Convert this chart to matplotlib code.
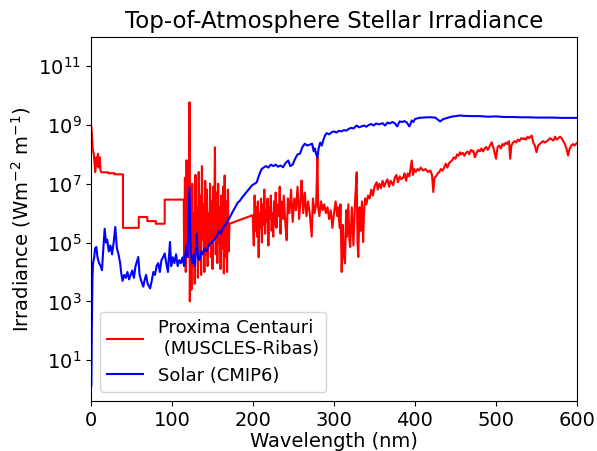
import numpy as np
import matplotlib
matplotlib.use("Agg")
import matplotlib.pyplot as plt

plt.rcParams['font.size'] = 14

# Proxima Centauri (MUSCLES-Ribas): wavelength (nm) and log10 irradiance
prox_wl = [0.3, 1.0, 2.1, 3.5, 5.3, 6.5, 7.5, 8.6, 9.5, 10.7, 11.8, 12.8, 21, 21, 29, 29, 39.5, 39.5,
           59, 59, 69.5, 69.5, 80, 80, 91, 91, 114.5,
           115, 116, 117, 118, 119, 120, 121, 121.6, 122, 123, 124, 125, 126, 127, 128, 129, 130,
           131, 132, 133, 134, 135, 136, 137, 138, 139, 140, 141, 142, 143, 144, 145, 146, 147,
           148, 149, 150, 151, 152, 153, 154, 155, 156, 157, 158, 159, 160, 161, 162, 163, 164,
           165, 166, 167, 168, 169, 170, 171,
           199.6, 201, 202, 203, 204, 205, 206, 207, 208, 209, 210, 211, 212, 213, 214, 215, 216,
           217, 218, 219, 220, 221, 222, 223, 224, 225, 226, 227, 228, 229, 230, 232, 233, 234,
           235, 237, 238, 240, 241.6, 243, 245, 247, 249, 251, 253, 255, 257, 259, 260, 262, 264,
           266, 268, 270, 272.5, 274, 276, 278, 279.5, 280.5, 282, 284, 286, 288, 290, 292, 294,
           296, 298, 300, 302, 304, 305, 307, 308, 309.5, 311, 312, 313.6, 315, 316, 317.7, 319,
           320, 322, 324, 326, 328, 329, 330, 331.5, 333, 334.5, 336, 337, 338.5, 340, 342, 344,
           346, 348, 350, 352.7, 354, 356, 358, 360, 362, 364, 366, 368, 370, 373, 375, 377, 379,
           381, 383, 385.6, 387, 389, 391, 393, 396, 397.5, 399, 401, 403, 405, 407, 410, 413,
           416, 419, 421, 422.6, 424, 426, 428, 430, 432, 434, 436, 438, 440, 442, 444, 446, 448,
           450, 452, 454, 455.6, 457, 459, 461, 463, 465, 467, 469, 471, 472, 474, 476, 478, 480,
           482, 484, 486, 488, 490, 492.6, 494.7, 497, 500, 502, 504, 506, 508, 510, 512, 514,
           516, 517.5, 519, 521, 523, 525, 527, 529, 531, 533.7, 535, 537, 539, 541, 544, 546,
           548, 550, 552, 554, 556, 558, 560, 562.6, 565, 567, 569, 571, 573, 575, 577, 579, 581,
           583, 585, 587, 589, 591, 593, 595, 597, 599.6]
prox_log = [8.98, 8.7, 8.19, 8.0, 7.39, 7.9, 7.6, 8.02, 7.55, 7.9, 7.45, 7.39, 7.39, 7.36, 7.36, 7.32, 7.32, 5.5,
            5.5, 5.87, 5.87, 5.73, 5.73, 5.64, 5.64, 6.46, 6.46,
            4.5, 7.2, 4.0, 7.8, 5.0, 6.8, 4.5, 9.77, 3.0, 6.5, 3.4, 7.0, 4.2, 6.0, 3.6, 7.3, 4.8,
            6.2, 3.8, 7.4, 4.4, 6.6, 3.9, 7.6, 5.1, 6.3, 4.0, 7.1, 4.6, 6.8, 4.2, 6.0, 4.9, 7.0,
            4.5, 6.4, 4.1, 6.9, 5.2, 8.24, 4.6, 6.7, 4.3, 7.0, 5.0, 6.2, 4.1, 6.6, 4.8, 6.9, 3.95,
            7.28, 4.5, 6.4, 4.0, 6.8, 4.7, 5.64,
            5.93, 4.9, 6.6, 5.4, 6.2, 5.2, 6.4, 4.5, 6.0, 5.5, 6.5, 5.0, 6.3, 5.6, 6.8, 5.3, 6.1,
            5.7, 6.5, 4.9, 6.2, 5.8, 6.6, 5.4, 6.0, 5.2, 6.4, 5.6, 6.7, 5.5, 6.3, 5.9, 6.9, 5.3,
            6.4, 5.8, 6.6, 5.6, 5.08, 6.5, 6.0, 6.8, 5.7, 6.5, 6.1, 6.9, 5.8, 6.6, 7.11, 6.0, 6.7,
            5.9, 6.4, 6.0, 5.2, 6.5, 6.0, 6.3, 7.9, 6.2, 5.9, 6.4, 6.1, 6.3, 6.0, 6.2, 5.8,
            6.1, 5.5, 6.0, 6.4, 5.9, 6.2, 5.5, 6.3, 4.0, 5.6, 4.6, 4.29, 6.1, 5.2, 6.3, 5.1,
            4.85, 6.2, 4.9, 6.4, 7.39, 5.0, 4.51, 6.2, 5.4, 6.4, 5.02, 6.0, 6.5, 6.3, 6.6, 6.5,
            6.8, 6.6, 6.9, 7.05, 6.8, 7.0, 6.85, 7.1, 6.9, 7.05, 7.15, 6.9, 7.1, 6.95, 7.2, 7.3, 7.05,
            7.25, 7.15, 7.22, 7.35, 7.1, 7.35, 7.25, 7.79, 7.3, 7.5, 7.4, 7.5, 7.45, 7.55, 7.45, 7.5,
            7.4, 7.45, 7.3, 6.72, 7.2, 7.25, 7.35, 7.4, 7.5, 7.45, 7.55, 7.68, 7.55, 7.7, 7.75, 7.8, 7.9,
            7.85, 8.0, 7.95, 8.07, 8.0, 8.05, 7.95, 8.05, 8.1, 8.0, 8.15, 8.1, 8.12, 7.9, 8.05, 8.15, 8.1,
            8.2, 8.1, 8.2, 8.25, 8.15, 8.3, 8.41, 8.2, 7.85, 8.25, 8.3, 8.2, 8.35, 8.3, 8.4, 8.35,
            8.45, 7.85, 8.3, 8.4, 8.45, 8.4, 8.5, 8.45, 8.55, 8.52, 8.55, 8.5, 8.6, 8.55, 8.64, 8.4,
            8.3, 8.07, 8.3, 8.35, 8.4, 8.45, 8.4, 8.44, 8.5, 8.55, 8.5, 8.47, 8.6, 8.5, 8.55, 8.6, 8.55,
            8.45, 8.35, 8.2, 7.96, 8.2, 8.3, 8.35, 8.3, 8.38]

# Solar (CMIP6): wavelength (nm) and log10 irradiance
sol_wl = [0.5, 1.0, 1.8, 2.5, 4, 5, 6.6, 8, 10, 12, 13.6, 15, 16.9, 18.5, 20, 22, 24, 26, 28, 30,
          32, 34, 36, 37.4, 39, 41, 43, 45, 47, 49, 51, 53, 55, 58.4, 60, 62, 64.6, 66, 68, 70,
          73, 75, 77, 79, 81, 83, 85, 87, 89, 91, 93, 95, 97.5, 99, 101, 103, 105, 107, 109, 111,
          113, 115, 117.7, 119, 121.6, 123, 125, 127, 128.4, 130.4, 132, 134, 136, 138, 140, 143,
          146, 149, 152, 155, 158, 160, 163, 166, 169, 171.6, 175, 178, 181, 184, 187, 190, 193,
          196, 199, 202, 204.6, 207, 209, 210.7, 213, 216, 219, 222, 225, 228, 231, 234, 237, 240,
          243.6, 246, 249, 252, 255, 258, 261, 264, 267, 270, 273, 275, 276.5, 278, 279.6, 281,
          283, 285, 287, 289, 291, 294, 297, 300, 303, 306, 309, 312, 315.6, 318, 321, 324, 328,
          331, 334, 337, 340, 343, 346, 349, 352, 355, 357, 360, 363, 366, 369, 372, 375, 378,
          381, 384, 387, 390, 393, 394, 396, 398, 400, 405, 410, 415, 420, 425, 431, 435, 440,
          445, 450, 455, 460, 470, 480, 490, 500, 510, 520, 530, 540, 550, 560, 570, 580, 590, 600]
sol_log = [0.15, 2.0, 3.8, 4.29, 4.5, 4.8, 4.85, 4.5, 4.3, 4.2, 4.06, 4.7, 5.47, 5.0, 5.1, 4.7, 4.9, 4.6, 5.0, 5.53,
           4.8, 4.6, 4.3, 3.95, 3.7, 3.9, 3.8, 4.0, 3.75, 3.9, 4.05, 3.8, 4.2, 4.51, 3.9, 3.7, 3.5, 3.7, 3.9, 3.6,
           3.44, 3.7, 4.0, 3.9, 4.2, 4.3, 4.0, 4.4, 4.5, 4.63, 4.3, 4.0, 5.02, 4.2, 4.5, 4.3, 4.6, 4.2, 4.4, 4.3,
           4.5, 4.2, 4.9, 4.5, 6.88, 4.7, 4.3, 4.6, 4.2, 5.3, 4.5, 4.4, 4.7, 4.6, 4.8, 4.7,
           4.95, 5.0, 5.1, 5.2, 5.4, 5.3, 5.5, 5.6, 5.75, 5.87, 6.05, 6.2, 6.35, 6.43, 6.55, 6.65, 6.75,
           6.85, 6.95, 7.0, 7.05, 7.25, 7.4, 7.5, 7.55, 7.6, 7.55, 7.65, 7.6, 7.65, 7.58, 7.62, 7.56, 7.7,
           7.79, 7.6, 7.65, 7.85, 8.0, 8.02, 8.25, 8.36, 8.3, 8.33, 8.36, 8.1, 8.2, 8.0, 7.9, 8.2,
           8.4, 8.3, 8.5, 8.65, 8.72, 8.68, 8.75, 8.78, 8.74, 8.8, 8.78, 8.82, 8.81, 8.86, 8.9, 8.88, 8.98,
           8.92, 8.95, 8.98, 8.94, 9.0, 9.03, 8.98, 9.05, 9.02, 9.03, 9.06, 8.98, 9.08, 9.05, 9.1, 9.06, 8.95,
           9.12, 9.1, 9.13, 9.08, 8.95, 9.0, 9.15, 9.1, 9.2, 9.24, 9.25, 9.26, 9.26, 9.25, 9.12, 9.2, 9.24,
           9.28, 9.3, 9.32, 9.31, 9.3, 9.3, 9.28, 9.29, 9.27, 9.27, 9.26, 9.26, 9.25, 9.25, 9.25, 9.24, 9.24, 9.24]

fig = plt.figure(figsize=(5.97, 4.51), dpi=100)
ax = fig.add_axes([0.1524, 0.1109, 0.8141, 0.8077])

ax.plot(prox_wl, 10 ** np.array(prox_log), color='red', lw=1.5,
        label='Proxima Centauri\n (MUSCLES-Ribas)')
ax.plot(sol_wl, 10 ** np.array(sol_log), color='blue', lw=1.5, label='Solar (CMIP6)')

ax.set_yscale('log')
ax.set_xlim(0, 600)
ax.set_ylim(0.41, 1e12)
ax.set_xlabel('Wavelength (nm)', labelpad=2)
ax.set_ylabel(r'Irradiance (Wm$^{-2}$ m$^{-1}$)')
ax.set_title('Top-of-Atmosphere Stellar Irradiance', fontsize=16.5)
ax.legend(loc='lower left', fontsize=13)

fig.savefig('out.png', dpi=100)
